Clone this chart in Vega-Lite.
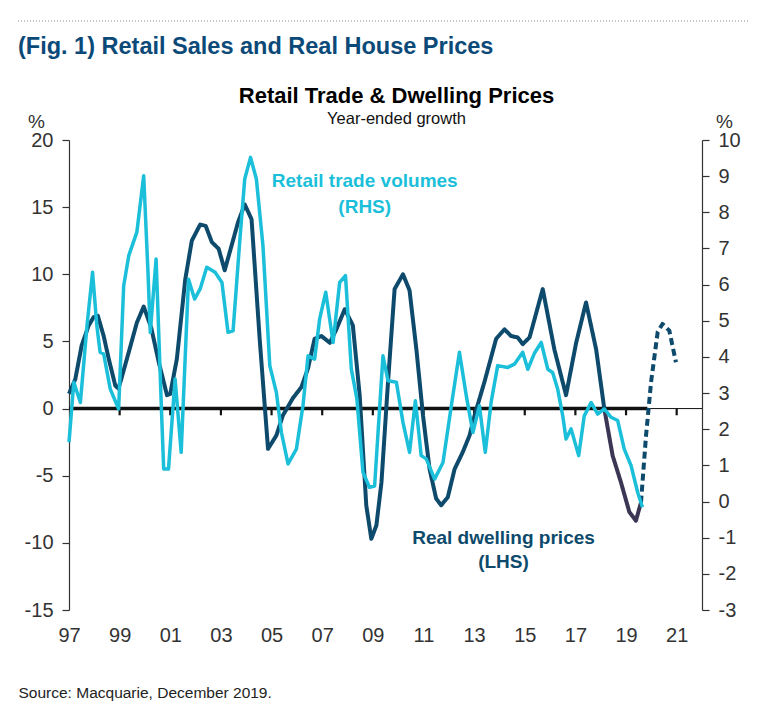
{
  "$schema": "https://vega.github.io/schema/vega-lite/v6.json",
  "background": "white",
  "autosize": {"type": "pad"},
  "padding": {"left": 18, "top": 20, "right": 14, "bottom": 10},
  "config": {"font": "Liberation Sans", "view": {"stroke": null}, "concat": {"spacing": -26}},
  "datasets": {
    "dw": [
      {"t": 1997.0, "v": 1.1, "p": "a"}, {"t": 1997.25, "v": 2.2, "p": "a"}, {"t": 1997.5, "v": 4.7, "p": "a"},
      {"t": 1997.78, "v": 6.2, "p": "a"}, {"t": 1997.97, "v": 6.8, "p": "a"}, {"t": 1998.14, "v": 6.9, "p": "a"},
      {"t": 1998.37, "v": 5.4, "p": "a"}, {"t": 1998.57, "v": 3.7, "p": "a"}, {"t": 1998.83, "v": 1.7, "p": "a"},
      {"t": 1998.95, "v": 1.5, "p": "a"}, {"t": 1999.05, "v": 2.1, "p": "a"}, {"t": 1999.36, "v": 4.2, "p": "a"},
      {"t": 1999.68, "v": 6.4, "p": "a"}, {"t": 1999.95, "v": 7.6, "p": "a"}, {"t": 2000.25, "v": 6.0, "p": "a"},
      {"t": 2000.54, "v": 3.5, "p": "a"}, {"t": 2000.87, "v": 1.0, "p": "a"}, {"t": 2001.0, "v": 1.1, "p": "a"},
      {"t": 2001.26, "v": 3.7, "p": "a"}, {"t": 2001.59, "v": 9.6, "p": "a"}, {"t": 2001.85, "v": 12.5, "p": "a"},
      {"t": 2002.18, "v": 13.7, "p": "a"}, {"t": 2002.4, "v": 13.6, "p": "a"}, {"t": 2002.64, "v": 12.4, "p": "a"},
      {"t": 2002.91, "v": 11.9, "p": "a"}, {"t": 2003.15, "v": 10.3, "p": "a"}, {"t": 2003.68, "v": 13.9, "p": "a"},
      {"t": 2003.94, "v": 15.2, "p": "a"}, {"t": 2004.21, "v": 14.1, "p": "a"}, {"t": 2004.53, "v": 5.2, "p": "a"},
      {"t": 2004.86, "v": -3.0, "p": "a"}, {"t": 2005.19, "v": -2.0, "p": "a"}, {"t": 2005.45, "v": -0.5, "p": "a"},
      {"t": 2005.85, "v": 0.8, "p": "a"}, {"t": 2006.18, "v": 1.6, "p": "a"}, {"t": 2006.44, "v": 3.0, "p": "a"},
      {"t": 2006.7, "v": 5.2, "p": "a"}, {"t": 2006.97, "v": 5.4, "p": "a"}, {"t": 2007.3, "v": 4.9, "p": "a"},
      {"t": 2007.56, "v": 5.9, "p": "a"}, {"t": 2007.89, "v": 7.4, "p": "a"}, {"t": 2008.21, "v": 6.2, "p": "a"},
      {"t": 2008.48, "v": 1.0, "p": "a"}, {"t": 2008.74, "v": -7.2, "p": "a"}, {"t": 2008.94, "v": -9.7, "p": "a"},
      {"t": 2009.14, "v": -8.7, "p": "a"}, {"t": 2009.34, "v": -5.5, "p": "a"}, {"t": 2009.6, "v": 2.0, "p": "a"},
      {"t": 2009.86, "v": 8.9, "p": "a"}, {"t": 2010.19, "v": 10.0, "p": "a"}, {"t": 2010.45, "v": 8.8, "p": "a"},
      {"t": 2010.72, "v": 4.4, "p": "a"}, {"t": 2010.98, "v": -0.5, "p": "a"}, {"t": 2011.24, "v": -4.5, "p": "a"},
      {"t": 2011.5, "v": -6.7, "p": "a"}, {"t": 2011.7, "v": -7.2, "p": "a"}, {"t": 2011.96, "v": -6.6, "p": "a"},
      {"t": 2012.23, "v": -4.5, "p": "a"}, {"t": 2012.55, "v": -3.25, "p": "a"}, {"t": 2012.82, "v": -2.0, "p": "a"},
      {"t": 2013.02, "v": -0.5, "p": "a"}, {"t": 2013.41, "v": 2.0, "p": "a"}, {"t": 2013.87, "v": 5.2, "p": "a"},
      {"t": 2014.2, "v": 5.9, "p": "a"}, {"t": 2014.46, "v": 5.4, "p": "a"}, {"t": 2014.72, "v": 5.3, "p": "a"},
      {"t": 2014.92, "v": 4.8, "p": "a"}, {"t": 2015.19, "v": 5.3, "p": "a"}, {"t": 2015.71, "v": 8.9, "p": "a"},
      {"t": 2016.17, "v": 4.4, "p": "a"}, {"t": 2016.63, "v": 1.0, "p": "a"}, {"t": 2017.03, "v": 4.9, "p": "a"},
      {"t": 2017.42, "v": 7.9, "p": "a"}, {"t": 2017.82, "v": 4.4, "p": "a"}, {"t": 2018.14, "v": 0.0, "p": "a"},
      {"t": 2018.14, "v": 0.0, "p": "p"}, {"t": 2018.47, "v": -3.5, "p": "p"}, {"t": 2018.8, "v": -5.5, "p": "p"},
      {"t": 2019.13, "v": -7.7, "p": "p"}, {"t": 2019.39, "v": -8.35, "p": "p"}, {"t": 2019.59, "v": -7.0, "p": "p"},
      {"t": 2019.59, "v": -7.0, "p": "f"}, {"t": 2019.79, "v": -2.0, "p": "f"}, {"t": 2019.99, "v": 2.0, "p": "f"},
      {"t": 2020.25, "v": 5.7, "p": "f"}, {"t": 2020.44, "v": 6.3, "p": "f"}, {"t": 2020.71, "v": 5.8, "p": "f"},
      {"t": 2020.97, "v": 3.45, "p": "f"}
    ],
    "rt": [
      {"t": 1997.0, "v": 1.64}, {"t": 1997.19, "v": 3.3}, {"t": 1997.45, "v": 2.74}, {"t": 1997.71, "v": 4.86},
      {"t": 1997.93, "v": 6.34}, {"t": 1998.1, "v": 4.86}, {"t": 1998.23, "v": 4.13}, {"t": 1998.37, "v": 4.08},
      {"t": 1998.63, "v": 3.11}, {"t": 1998.96, "v": 2.56}, {"t": 1999.16, "v": 5.97}, {"t": 1999.36, "v": 6.8},
      {"t": 1999.68, "v": 7.45}, {"t": 1999.95, "v": 9.01}, {"t": 2000.12, "v": 6.34}, {"t": 2000.21, "v": 4.68},
      {"t": 2000.44, "v": 6.71}, {"t": 2000.67, "v": 2.19}, {"t": 2000.74, "v": 0.9}, {"t": 2000.93, "v": 0.9},
      {"t": 2001.19, "v": 3.39}, {"t": 2001.43, "v": 1.36}, {"t": 2001.72, "v": 6.15}, {"t": 2001.96, "v": 5.6},
      {"t": 2002.18, "v": 5.88}, {"t": 2002.44, "v": 6.48}, {"t": 2002.77, "v": 6.34}, {"t": 2003.04, "v": 6.06},
      {"t": 2003.28, "v": 4.68}, {"t": 2003.48, "v": 4.72}, {"t": 2003.75, "v": 7.26}, {"t": 2003.94, "v": 8.92},
      {"t": 2004.17, "v": 9.52}, {"t": 2004.4, "v": 8.92}, {"t": 2004.66, "v": 7.08}, {"t": 2004.93, "v": 3.76},
      {"t": 2005.19, "v": 3.02}, {"t": 2005.39, "v": 1.91}, {"t": 2005.65, "v": 1.04}, {"t": 2005.98, "v": 1.45},
      {"t": 2006.24, "v": 2.65}, {"t": 2006.44, "v": 4.03}, {"t": 2006.7, "v": 3.94}, {"t": 2006.9, "v": 5.05},
      {"t": 2007.14, "v": 5.79}, {"t": 2007.43, "v": 4.4}, {"t": 2007.69, "v": 6.06}, {"t": 2007.92, "v": 6.25},
      {"t": 2008.15, "v": 3.67}, {"t": 2008.37, "v": 2.84}, {"t": 2008.61, "v": 0.81}, {"t": 2008.87, "v": 0.39},
      {"t": 2009.07, "v": 0.43}, {"t": 2009.4, "v": 4.03}, {"t": 2009.6, "v": 3.34}, {"t": 2009.93, "v": 3.3},
      {"t": 2010.19, "v": 2.19}, {"t": 2010.45, "v": 1.36}, {"t": 2010.68, "v": 2.79}, {"t": 2010.91, "v": 1.27},
      {"t": 2011.11, "v": 1.18}, {"t": 2011.44, "v": 0.62}, {"t": 2011.77, "v": 1.08}, {"t": 2012.1, "v": 2.65},
      {"t": 2012.42, "v": 4.13}, {"t": 2012.69, "v": 2.93}, {"t": 2012.95, "v": 1.91}, {"t": 2013.21, "v": 2.65},
      {"t": 2013.44, "v": 1.36}, {"t": 2013.67, "v": 2.74}, {"t": 2013.93, "v": 3.76}, {"t": 2014.33, "v": 3.71},
      {"t": 2014.59, "v": 3.8}, {"t": 2014.92, "v": 4.13}, {"t": 2015.12, "v": 3.66}, {"t": 2015.38, "v": 4.1},
      {"t": 2015.65, "v": 4.4}, {"t": 2015.91, "v": 3.66}, {"t": 2016.1, "v": 3.57}, {"t": 2016.3, "v": 3.11},
      {"t": 2016.5, "v": 2.37}, {"t": 2016.63, "v": 1.73}, {"t": 2016.83, "v": 2.01}, {"t": 2017.13, "v": 1.27},
      {"t": 2017.35, "v": 2.37}, {"t": 2017.62, "v": 2.74}, {"t": 2017.88, "v": 2.42}, {"t": 2018.14, "v": 2.56},
      {"t": 2018.41, "v": 2.33}, {"t": 2018.67, "v": 2.24}, {"t": 2018.93, "v": 1.45}, {"t": 2019.2, "v": 0.99},
      {"t": 2019.46, "v": 0.25}, {"t": 2019.65, "v": -0.16}
    ],
    "zero": [
      {"t": 1997.0, "t2": 2019.84, "w": "thick"},
      {"t": 2019.84, "t2": 2022.0, "w": "thin"}
    ],
    "ticks": [
      {"t": 1999}, {"t": 2001}, {"t": 2003}, {"t": 2005}, {"t": 2007}, {"t": 2009},
      {"t": 2011}, {"t": 2013}, {"t": 2015}, {"t": 2017}, {"t": 2019}, {"t": 2021}
    ],
    "notes": [
      {"t": 2008.68, "y": 16.5, "label": "Retail trade volumes\n(RHS)", "s": "rt"},
      {"t": 2014.16, "y": -10.08, "label": "Real dwelling prices\n(LHS)", "s": "dw"}
    ]
  },
  "columns": 1,
  "concat": [
    {
      "width": 732,
      "height": 52,
      "data": {"values": [{"a": 0}]},
      "mark": {"type": "point", "opacity": 0, "size": 0},
      "encoding": {
        "x": {
          "field": "a", "type": "quantitative", "scale": {"domain": [0, 1]},
          "axis": {
            "translate": -51,
            "domain": true, "domainColor": "#8a8a8a", "domainDash": [1, 2], "domainWidth": 1,
            "ticks": false, "labels": false, "grid": false,
            "title": "(Fig. 1) Retail Sales and Real House Prices",
            "titleAnchor": "start", "titleFont": "Liberation Sans", "titleFontSize": 23.5,
            "titleFontWeight": "bold", "titleColor": "#0b4a78", "titlePadding": 14
          }
        }
      }
    },
    {
      "width": 633,
      "height": 470,
      "title": {
        "text": "Retail Trade & Dwelling Prices",
        "subtitle": "Year-ended growth",
        "anchor": "middle", "frame": "group", "dx": 11,
        "font": "Liberation Sans", "fontSize": 22, "fontWeight": "bold", "color": "#000000",
        "subtitleFont": "Liberation Sans", "subtitleFontSize": 16.5, "subtitleColor": "#111111",
        "subtitlePadding": 3, "offset": -16
      },
      "resolve": {"scale": {"y": "independent"}},
      "encoding": {
        "x": {
          "field": "t", "type": "quantitative",
          "scale": {"domain": [1997, 2022], "nice": false, "zero": false},
          "axis": {
            "values": [1997, 1999, 2001, 2003, 2005, 2007, 2009, 2011, 2013, 2015, 2017, 2019, 2021],
            "labelExpr": "substring(toString(datum.value), 2, 4)",
            "domain": false, "ticks": false, "grid": false,
            "labelFlush": false, "labelOverlap": false,
            "labelFont": "Liberation Sans", "labelFontSize": 20, "labelColor": "#333333", "labelPadding": 15,
            "title": "Source: Macquarie, December 2019.",
            "titleX": -51, "titleY": 87, "titleAlign": "left", "titleAnchor": "start",
            "titleBaseline": "alphabetic", "titleFont": "Liberation Sans", "titleFontSize": 15.5,
            "titleFontWeight": "normal", "titleColor": "#222222"
          }
        }
      },
      "layer": [
        {
          "layer": [
            {
              "data": {"name": "zero"},
              "mark": {"type": "rule", "color": "#111111"},
              "encoding": {
                "x2": {"field": "t2"},
                "y": {"datum": 0, "scale": {"domain": [-15, 20], "nice": false}},
                "strokeWidth": {"field": "w", "type": "nominal", "scale": {"domain": ["thick", "thin"], "range": [3.5, 1]}, "legend": null}
              }
            },
            {
              "data": {"name": "ticks"},
              "mark": {"type": "rule", "color": "#111111", "strokeWidth": 2.2},
              "encoding": {
                "y": {"datum": 0, "scale": {"domain": [-15, 20], "nice": false}},
                "y2": {"datum": -0.5}
              }
            },
            {
              "data": {"name": "dw"},
              "mark": {"type": "line", "strokeWidth": 4, "strokeJoin": "round", "strokeCap": "butt"},
              "encoding": {
                "y": {
                  "field": "v", "type": "quantitative",
                  "scale": {"domain": [-15, 20], "nice": false},
                  "axis": {
                    "orient": "left", "values": [-15, -10, -5, 0, 5, 10, 15, 20],
                    "labelExpr": "'' + datum.value",
                    "grid": false, "domainColor": "#333333", "domainWidth": 1.2,
                    "tickColor": "#333333", "tickSize": 7, "tickWidth": 1.2,
                    "labelFont": "Liberation Sans", "labelFontSize": 20, "labelColor": "#333333", "labelPadding": 9,
                    "title": "%", "titleAngle": 0, "titleX": -33, "titleY": -13,
                    "titleAlign": "center", "titleBaseline": "alphabetic",
                    "titleFont": "Liberation Sans", "titleFontSize": 19, "titleFontWeight": "normal", "titleColor": "#333333"
                  }
                },
                "color": {"field": "p", "type": "nominal", "scale": {"domain": ["a", "p", "f"], "range": ["#0d4a6c", "#3a3654", "#0d4a6c"]}, "legend": null},
                "strokeDash": {"field": "p", "type": "nominal", "scale": {"domain": ["a", "p", "f"], "range": [[1, 0], [1, 0], [7, 4]]}, "legend": null}
              }
            },
            {
              "data": {"name": "notes"},
              "transform": [{"filter": "datum.s == 'rt'"}],
              "mark": {"type": "text", "fontWeight": "bold", "fontSize": 19, "font": "Liberation Sans", "align": "center", "baseline": "alphabetic", "lineBreak": "\n", "lineHeight": 26, "color": "#1bbfd9"},
              "encoding": {
                "y": {"field": "y", "type": "quantitative", "scale": {"domain": [-15, 20], "nice": false}},
                "text": {"field": "label"}
              }
            },
            {
              "data": {"name": "notes"},
              "transform": [{"filter": "datum.s == 'dw'"}],
              "mark": {"type": "text", "fontWeight": "bold", "fontSize": 19, "font": "Liberation Sans", "align": "center", "baseline": "alphabetic", "lineBreak": "\n", "lineHeight": 24, "color": "#0d4a6c"},
              "encoding": {
                "y": {"field": "y", "type": "quantitative", "scale": {"domain": [-15, 20], "nice": false}},
                "text": {"field": "label"}
              }
            }
          ]
        },
        {
          "data": {"name": "rt"},
          "mark": {"type": "line", "strokeWidth": 3.5, "strokeJoin": "round", "color": "#1bbfd9"},
          "encoding": {
            "y": {
              "field": "v", "type": "quantitative",
              "scale": {"domain": [-3, 10], "nice": false},
              "axis": {
                "orient": "right", "values": [-3, -2, -1, 0, 1, 2, 3, 4, 5, 6, 7, 8, 9, 10],
                "labelExpr": "'' + datum.value",
                "grid": false, "domainColor": "#333333", "domainWidth": 1.2,
                "tickColor": "#333333", "tickSize": 7, "tickWidth": 1.2,
                "labelFont": "Liberation Sans", "labelFontSize": 20, "labelColor": "#333333", "labelPadding": 9,
                "title": "%", "titleAngle": 0, "titleX": 22, "titleY": -13,
                "titleAlign": "center", "titleBaseline": "alphabetic",
                "titleFont": "Liberation Sans", "titleFontSize": 19, "titleFontWeight": "normal", "titleColor": "#333333"
              }
            }
          }
        }
      ]
    }
  ]
}
